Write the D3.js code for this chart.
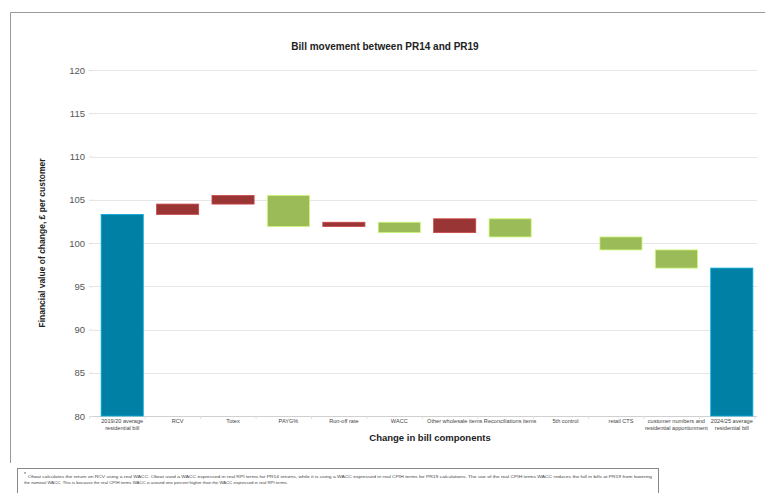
<!DOCTYPE html>
<html>
<head>
<meta charset="utf-8">
<script src="https://cdn.jsdelivr.net/npm/d3@7"></script>
<style>
  body { margin: 0; background: #fff; }
  svg { display: block; font-family: "Liberation Sans", Arial, sans-serif; }
</style>
</head>
<body>
<svg id="chart" width="765" height="493"></svg>
<script>
// ---- data ----
const categories = [
  "2019/20 average residential bill", "RCV", "Totex", "PAYG%", "Run-off rate", "WACC",
  "Other wholesale items", "Reconciliations items", "5th control", "retail CTS",
  "customer numbers and residential apportionment", "2024/25 average residential bill"
];
const labelLines = [
  ["2019/20 average", "residential bill"], ["RCV"], ["Totex"], ["PAYG%"], ["Run-off rate"], ["WACC"],
  ["Other wholesale items"], ["Reconciliations items"], ["5th control"], ["retail CTS"],
  ["customer numbers and", "residential apportionment"], ["2024/25 average", "residential bill"]
];
const kinds = ["total", "delta", "delta", "delta", "delta", "delta", "delta", "delta", "delta", "delta", "delta", "total"];
const values = [103.3, 1.2, 1.0, -3.6, 0.5, -1.2, 1.6, -2.1, 0, -1.5, -2.1, 97.1];
const yTicks = [80, 85, 90, 95, 100, 105, 110, 115, 120];

const footnote1 = "Ofwat calculates the return on RCV using a real WACC. Ofwat used a WACC expressed in real RPI terms for PR14 returns, while it is using a WACC expressed in real CPIH terms for PR19 calculations. The use of the real CPIH terms WACC reduces the fall in bills at PR19 from lowering";
const footnote2 = "the nominal WACC. This is because the real CPIH terms WACC is around one percent higher than the WACC expressed in real RPI terms.";

// ---- build waterfall extents ----
let running = 0;
const bars = categories.map((c, i) => {
  let lo, hi, type;
  if (kinds[i] === "total") {
    running = values[i];
    lo = 80; hi = values[i]; type = "total";
  } else {
    const start = running;
    running = start + values[i];
    lo = Math.min(start, running); hi = Math.max(start, running);
    type = values[i] >= 0 ? "up" : "down";
  }
  return { c, i, lo, hi, type, v: values[i] };
});

const svg = d3.select("#chart");
const colors = { total: "#0080A5", up: "#993535", down: "#9BBB59" };

// outer frame
svg.append("path").attr("d", "M10.5,463 V12.5 H765").attr("fill", "none").attr("stroke", "#999").attr("stroke-width", 1);

const x = d3.scaleBand().domain(categories).range([94.5, 759.5]).paddingInner(0.24).paddingOuter(0.12);
const y = d3.scaleLinear().domain([80, 120]).range([416, 70]);

// gridlines
svg.append("g").selectAll("line").data(yTicks).join("line")
  .attr("x1", 93).attr("x2", 757)
  .attr("y1", d => Math.round(y(d)) + 0.5).attr("y2", d => Math.round(y(d)) + 0.5)
  .attr("stroke", d => d === 80 ? "#d0d0d0" : "#e6e6e6").attr("stroke-width", 1);

// y axis
const yAxis = d3.axisLeft(y).tickValues(yTicks).tickSize(4).tickPadding(4);
const gy = svg.append("g").attr("transform", "translate(93,0)").call(yAxis);
gy.select(".domain").remove();
gy.selectAll(".tick line").attr("stroke", "#ddd");
gy.selectAll(".tick text").attr("font-size", 9.5).attr("fill", "#555").attr("font-family", "Liberation Sans, Arial, sans-serif");

// x axis ticks (category separators)
const step = x.step();
svg.append("g").selectAll("line").data(d3.range(categories.length + 1)).join("line")
  .attr("x1", i => x(categories[0]) - x.paddingOuter() * step - x.paddingInner() * step / 2 + i * step + 2)
  .attr("x2", i => x(categories[0]) - x.paddingOuter() * step - x.paddingInner() * step / 2 + i * step + 2)
  .attr("y1", 416).attr("y2", 419).attr("stroke", "#ddd");

// bars
svg.append("g").selectAll("rect").data(bars.filter(d => d.hi > d.lo)).join("rect")
  .attr("x", d => x(d.c)).attr("width", x.bandwidth())
  .attr("y", d => y(d.hi)).attr("height", d => y(d.lo) - y(d.hi))
  .attr("fill", d => colors[d.type])
  .attr("stroke", d => d3.color(colors[d.type]).brighter(0.8)).attr("stroke-width", 0.8);

// x labels
const gx = svg.append("g");
bars.forEach((d, i) => {
  const t = gx.append("text").attr("x", x(d.c) + x.bandwidth() / 2).attr("y", 423)
    .attr("text-anchor", "middle").attr("font-size", 5.6).attr("fill", "#444");
  labelLines[i].forEach((ln, k) => t.append("tspan").attr("x", x(d.c) + x.bandwidth() / 2).attr("dy", k === 0 ? 0 : 6.5).text(ln));
});

// titles
svg.append("text").attr("x", 385).attr("y", 50).attr("text-anchor", "middle")
  .attr("font-size", 10).attr("font-weight", "bold").attr("fill", "#222").text("Bill movement between PR14 and PR19");
svg.append("text").attr("x", 430).attr("y", 441).attr("text-anchor", "middle")
  .attr("font-size", 9.5).attr("font-weight", "bold").attr("fill", "#222").text("Change in bill components");
svg.append("text").attr("transform", "translate(45,243) rotate(-90)").attr("text-anchor", "middle")
  .attr("font-size", 8.5).attr("font-weight", "bold").attr("fill", "#222").text("Financial value of change, £ per customer");

// footnote box
svg.append("rect").attr("x", 17.5).attr("y", 468.5).attr("width", 641).attr("height", 40)
  .attr("fill", "#fff").attr("stroke", "#888").attr("stroke-width", 1);
svg.append("text").attr("x", 24).attr("y", 476).attr("font-size", 5).attr("fill", "#333").text("*");
svg.append("text").attr("x", 28).attr("y", 478).attr("font-size", 4.3).attr("fill", "#444")
  .attr("textLength", 624).attr("lengthAdjust", "spacingAndGlyphs").text(footnote1);
svg.append("text").attr("x", 24).attr("y", 483.5).attr("font-size", 4.3).attr("fill", "#444").text(footnote2);
</script>
</body>
</html>
